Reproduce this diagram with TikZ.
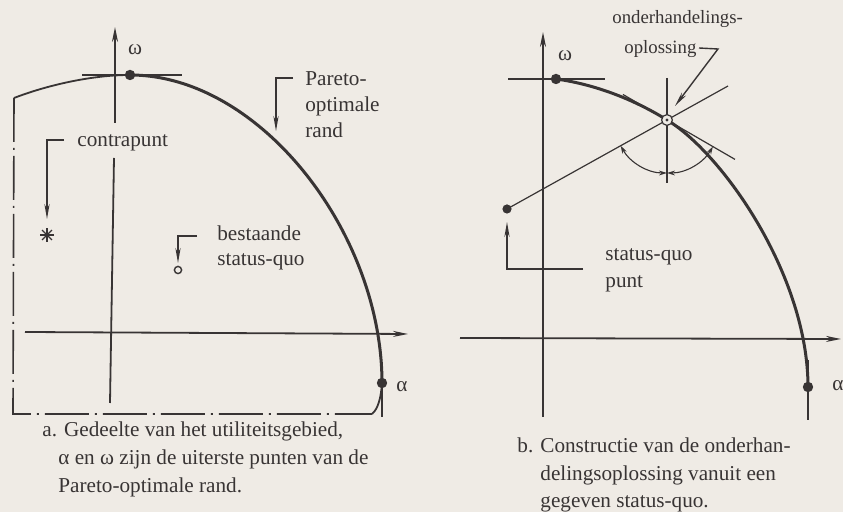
\documentclass[tikz,border=0pt]{standalone}
\usepackage{fontspec}
\setmainfont{Liberation Serif}
\usetikzlibrary{arrows.meta,calc}
\definecolor{paper}{HTML}{EFEBE5}
\definecolor{ink}{HTML}{383434}
\begin{document}
\begin{tikzpicture}[x=0.5pt,y=-0.5pt,
  axisline/.style={draw=ink,line width=0.9pt},
  axisarrow/.style={axisline,-{Stealth[length=7.5pt,width=3pt]}},
  leader/.style={draw=ink,line width=0.7pt,-{Stealth[length=7.5pt,width=2.6pt]}},
  pareto/.style={draw=ink,line width=1.5pt},
  thincurve/.style={draw=ink,line width=0.9pt},
  fine/.style={draw=ink,line width=0.6pt},
  dashframe/.style={draw=ink,line width=0.8pt,dash pattern=on 22pt off 3pt on 1pt off 3pt},
  bigdot/.style={circle,fill=ink,inner sep=0pt,minimum size=5.2pt},
  sqdot/.style={circle,fill=ink,inner sep=0pt,minimum size=4.6pt},
  opendot/.style={circle,draw=ink,line width=0.7pt,fill=paper,inner sep=0pt,minimum size=3.6pt},
  solution/.style={circle,draw=ink,line width=0.6pt,fill=paper,inner sep=0pt,minimum size=5.4pt},
  lbl/.style={anchor=base west,inner sep=0pt,text=ink,font=\fontsize{10.6}{12}\selectfont},
  smalllbl/.style={lbl,font=\fontsize{9.4}{11}\selectfont},
  greek/.style={anchor=center,inner sep=0pt,text=ink,font=\fontsize{10.6}{12}\selectfont},
  anglearc/.style={draw=ink,line width=0.55pt,{Stealth[length=4pt,width=2.4pt]}-{Stealth[length=4pt,width=2.4pt]}}
]
\fill[paper] (0,0) rectangle (843,512);
\useasboundingbox (0,0) rectangle (843,512);

% ================= left panel =================
\coordinate (LyTop) at (115,27);
\coordinate (LyA) at (115,123);
\coordinate (LyB) at (114,158);
\coordinate (LyBot) at (110,403);
\coordinate (LxL) at (25,332);
\coordinate (LxR) at (408,334);
\draw[axisarrow] (LyA) -- (LyTop);
\draw[axisline] (LyB) -- (LyBot);
\draw[axisarrow] (LxL) -- (LxR);

\coordinate (Fa) at (14,98);
\coordinate (Fb) at (13,414);
\coordinate (Fc) at (372,414);
\draw[dashframe] (Fa) -- (Fb) -- (Fc);

\node[bigdot] (wL) at (130,75) {};
\node[bigdot] (aL) at (382,383) {};
\coordinate (wLl) at (82,75);
\coordinate (wLr) at (182,75);
\draw[fine] (wLl) -- (wLr);
\coordinate (aLt) at (382,362);
\coordinate (aLb) at (382,417);
\draw[fine] (aLt) -- (aLb);

\draw[thincurve] (Fa) .. controls (45,86) and (90,75) .. (wL.center);
\draw[pareto] (wL.center) .. controls (260,75) and (382,233) .. (aL.center);
\draw[thincurve] (aL.center) .. controls (381,398) and (378,409) .. (Fc);

\node[greek] (omL) at (135,50) {ω};
\node[greek] (alL) at (402,387) {α};

\node[lbl] (par1) at (305,86) {Pareto-};
\node[lbl] (par2) at (305,112) {optimale};
\node[lbl] (par3) at (305,138) {rand};
\coordinate (pl0) at (293,78);
\coordinate (pl1) at (276,78);
\coordinate (pl2) at (276,131);
\draw[leader] (pl0) -- (pl1) -- (pl2);

\node[lbl] (contra) at (77,147) {contrapunt};
\coordinate (cl0) at (64,140);
\coordinate (cl1) at (47,140);
\coordinate (cl2) at (47,219);
\draw[leader] (cl0) -- (cl1) -- (cl2);
\coordinate (ast) at (47,235);
\foreach \a in {0,45,90,135}
  \draw[ink,line width=0.7pt] ($(ast)+(\a:7)$) -- ($(ast)+(\a+180:7)$);

\node[lbl] (best1) at (217,241) {bestaande};
\node[lbl] (best2) at (217,266) {status-quo};
\coordinate (bl0) at (197,236);
\coordinate (bl1) at (178,236);
\coordinate (bl2) at (178,263);
\draw[leader] (bl0) -- (bl1) -- (bl2);
\node[opendot] (sqL) at (178,270) {};

\node[lbl] (capa1) at (42,437) {a. Gedeelte van het utiliteitsgebied,};
\node[lbl] (capa2) at (58,465) {α en ω zijn de uiterste punten van de};
\node[lbl] (capa3) at (58,493) {Pareto-optimale rand.};

% ================= right panel =================
\coordinate (RyTop) at (543,32);
\coordinate (RyBot) at (543,417);
\coordinate (RxL) at (460,338);
\coordinate (RxR) at (841,339);
\draw[axisarrow] (RyBot) -- (RyTop);
\draw[axisarrow] (RxL) -- (RxR);

\node[bigdot] (wR) at (556,79) {};
\node[bigdot] (aR) at (808,387) {};
\coordinate (wRl) at (508,79);
\coordinate (wRr) at (605,79);
\draw[fine] (wRl) -- (wRr);
\coordinate (aRt) at (808,360);
\coordinate (aRb) at (808,420);
\draw[fine] (aRt) -- (aRb);

\coordinate (S) at (667,120);
\draw[pareto] (wR.center) .. controls (600,85) and (640,103) .. (S)
  .. controls (722,153) and (808,275) .. (aR.center);

\coordinate (tg1) at ($(S)+(-44,-25.5)$);
\coordinate (tg2) at ($(S)+(68,39.4)$);
\draw[fine] (tg1) -- (tg2);

\node[sqdot] (sq) at (507,209) {};
\coordinate (sqE) at (728,86);
\draw[fine] (sq.center) -- (sqE);

\coordinate (vt) at (667,78);
\coordinate (vb) at (667,183);
\draw[fine] (vt) -- (vb);

\draw[anglearc] ($(S)+(90:53)$) arc[start angle=90,end angle=151,radius=53];
\draw[anglearc] ($(S)+(90:53)$) arc[start angle=90,end angle=30,radius=53];

\node[smalllbl] (ond1) at (612,24) {onderhandelings-};
\node[smalllbl] (ond2) at (624,54) {oplossing};
\coordinate (ol0) at (699,48);
\coordinate (ol1) at (718,49);
\coordinate (ol2) at (675,106);
\draw[leader] (ol0) -- (ol1) -- (ol2);

\node[lbl] (sqr1) at (605,261) {status-quo};
\node[lbl] (sqr2) at (605,288) {punt};
\coordinate (sl0) at (583,269);
\coordinate (sl1) at (507,269);
\coordinate (sl2) at (507,222);
\draw[leader] (sl0) -- (sl1) -- (sl2);

\node[greek] (omR) at (565,56) {ω};
\node[greek] (alR) at (838,386) {α};

\node[solution] (sol) at (S) {};
\fill[ink] (sol.center) circle[radius=1.6];

\node[lbl] (capb1) at (517,453) {b. Constructie van de onderhan-};
\node[lbl] (capb2) at (540,481) {delingsoplossing vanuit een};
\node[lbl] (capb3) at (540,508) {gegeven status-quo.};
\end{tikzpicture}
\end{document}
